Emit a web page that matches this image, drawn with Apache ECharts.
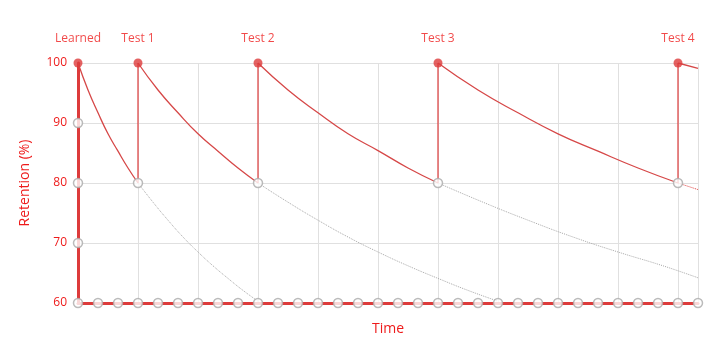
<!DOCTYPE html>
<html>
<head>
<meta charset="utf-8">
<script src="https://cdn.jsdelivr.net/npm/echarts@6/dist/echarts.min.js"></script>
<style>html,body{margin:0;padding:0;background:#fff}#c{width:720px;height:363px}</style>
</head>
<body>
<div id="c"></div>
<script>
// ---- data ----
const tickX = [0,1,2,3,4,5,6,7,8,9,10,11,12,13,14,15,16,17,18,19,20,21,22,23,24,25,26,27,28,29,30,31];
const tickY = [60,70,80,90];
const eventNames = ['Learned','Test 1','Test 2','Test 3','Test 4'];
const eventTimes = [0,3,9,18,30];
const testTimes = [3,9,18,30];
const eventTop = 100;
const recallLow = 80;

const decay1X = [0,0.5,1,1.5,2,2.5,3];
const decay1Y = [100,95.5,91.7,88.2,85.3,82.5,80];
const decay2X = [3,4,5,6,7,8,9];
const decay2Y = [100,95.5,91.7,88.2,85.3,82.5,80];
const decay3X = [9,10.5,12,13.5,15,16.5,18];
const decay3Y = [100,95.5,91.7,88.2,85.4,82.5,80];
const decay4X = [18,20,22,24,26,28,30];
const decay4Y = [100,95.5,91.7,88.2,85.3,82.5,80];
const decay5X = [30,31];
const decay5Y = [100,99.1];

const fade1X = [3,3.75,4.5,5.25,6,6.75,7.5,8.25,9];
const fade1Y = [80,76.8,73.8,71.0,68.5,66.2,64.1,62.1,60.3];
const fade2X = [9,10.5,12,13.5,15,16.5,18,19.5,21];
const fade2Y = [80,76.8,73.8,71.0,68.5,66.2,64.1,62.1,60.3];
const fade3X = [18,20.25,22.5,24.75,27,29.25,31];
const fade3Y = [80,76.8,73.8,71.0,68.5,66.2,64.2];
const fade4X = [30,31];
const fade4Y = [80,78.9];

// ---- styles ----
const RED = '#dd3b3b';
const TXT = '#ee1b1b';
const CURVE = '#d64848';
const FONT = '"Open Sans"';

const zip = (xs, ys) => xs.map((x, i) => [x, ys[i]]);

function curve(xs, ys, color, type) {
  return {
    type: 'line', data: zip(xs, ys), smooth: 0.5, symbol: 'none', silent: true,
    lineStyle: { color: color, width: type === 'solid' ? 1.3 : 1, type: type },
    z: 3
  };
}

const series = [
  curve(decay1X, decay1Y, CURVE, 'solid'),
  curve(decay2X, decay2Y, CURVE, 'solid'),
  curve(decay3X, decay3Y, CURVE, 'solid'),
  curve(decay4X, decay4Y, CURVE, 'solid'),
  curve(decay5X, decay5Y, CURVE, 'solid'),
  curve(fade1X, fade1Y, '#a8a8a8', 'dotted'),
  curve(fade2X, fade2Y, '#a8a8a8', 'dotted'),
  curve(fade3X, fade3Y, '#a8a8a8', 'dotted'),
  curve(fade4X, fade4Y, RED, 'dotted')
];

testTimes.forEach(t => {
  series.push({
    type: 'line', data: [[t, recallLow], [t, eventTop]], symbol: 'none', silent: true,
    lineStyle: { color: RED, width: 1.2 }, z: 3
  });
});

// axis markers (hollow)
series.push({
  type: 'scatter', silent: true, z: 5,
  data: tickX.map(x => [x, 60]).concat(tickY.slice(1).map(y => [0, y])),
  symbol: 'circle', symbolSize: 9,
  itemStyle: { color: '#fff', borderColor: '#aaaaaa', borderWidth: 1.5 }
});
// recall points (hollow)
series.push({
  type: 'scatter', silent: true, z: 6,
  data: testTimes.map(t => [t, recallLow]),
  symbol: 'circle', symbolSize: 9,
  itemStyle: { color: '#fff', borderColor: '#aaaaaa', borderWidth: 1.5 }
});
// event points (filled) with labels
series.push({
  type: 'scatter', silent: true, z: 7,
  data: eventTimes.map((t, i) => ({ value: [t, eventTop], name: eventNames[i] })),
  symbol: 'circle', symbolSize: 9,
  itemStyle: { color: RED },
  label: {
    show: true, position: 'top', distance: 14, formatter: p => p.name,
    color: TXT, fontSize: 12, fontFamily: FONT
  }
});

const chart = echarts.init(document.getElementById('c'));
chart.setOption({
  animation: false,
  grid: { left: 78, right: 22, top: 63, bottom: 60, containLabel: false },
  xAxis: {
    type: 'value', min: 0, max: 31, interval: 3,
    name: 'Time', nameLocation: 'middle', nameGap: 19,
    nameTextStyle: { color: TXT, fontSize: 14, fontFamily: FONT },
    axisLine: { show: true, onZero: false, lineStyle: { color: RED, width: 3 } },
    axisTick: { show: false },
    axisLabel: { show: false },
    splitLine: { show: true, lineStyle: { color: '#e0e0e0', width: 1 } }
  },
  yAxis: {
    type: 'value', min: 60, max: 100, interval: 10,
    name: 'Retention (%)', nameLocation: 'middle', nameGap: 46,
    nameTextStyle: { color: TXT, fontSize: 14, fontFamily: FONT },
    axisLine: { show: true, onZero: false, lineStyle: { color: RED, width: 3 } },
    axisTick: { show: false },
    axisLabel: { color: TXT, fontSize: 12, fontFamily: FONT, margin: 11 },
    splitLine: { show: true, lineStyle: { color: '#e0e0e0', width: 1 } }
  },
  series: series
});
</script>
</body>
</html>
